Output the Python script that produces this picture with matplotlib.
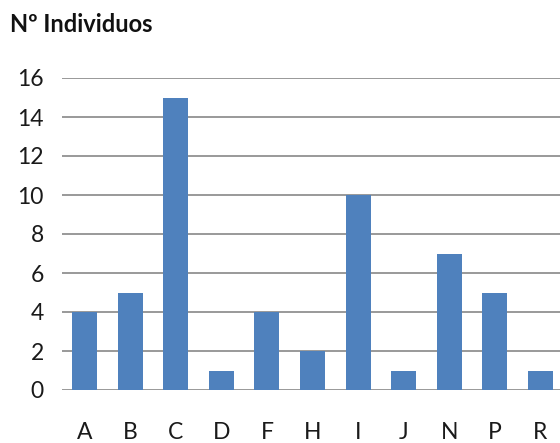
import matplotlib
matplotlib.use('Agg')
import matplotlib.pyplot as plt

# Data
categories = ['A', 'B', 'C', 'D', 'F', 'H', 'I', 'J', 'N', 'P', 'R']
individuos = [4, 5, 15, 1, 4, 2, 10, 1, 7, 5, 1]
y_ticks = [0, 2, 4, 6, 8, 10, 12, 14, 16]

plt.rcParams['font.family'] = ['Lato', 'DejaVu Sans']

fig = plt.figure(figsize=(5.6, 4.43), dpi=100)
ax = fig.add_axes([62 / 560, 53 / 443, 501 / 560, 312 / 443])

ax.bar(range(len(categories)), individuos, width=0.55, color='#4F81BD', zorder=3)

ax.set_xlim(-0.5, len(categories) - 0.5)
ax.set_ylim(0, 16)
ax.set_yticks(y_ticks)
ax.set_xticks(range(len(categories)))
ax.set_xticklabels(categories)

ax.grid(axis='y', color='#878787', linewidth=1.2, zorder=0)
ax.set_axisbelow(True)
for s in ax.spines.values():
    s.set_visible(False)
ax.tick_params(axis='both', length=0, labelsize=16.5, colors='#1a1a1a')
ax.tick_params(axis='y', pad=13)
ax.tick_params(axis='x', pad=23)

fig.text(10 / 560, 1 - 25 / 443, 'Nº Individuos', ha='left', va='center',
         fontsize=17, fontweight='bold', color='#111111')

fig.savefig('out.png', dpi=100, facecolor='white')
